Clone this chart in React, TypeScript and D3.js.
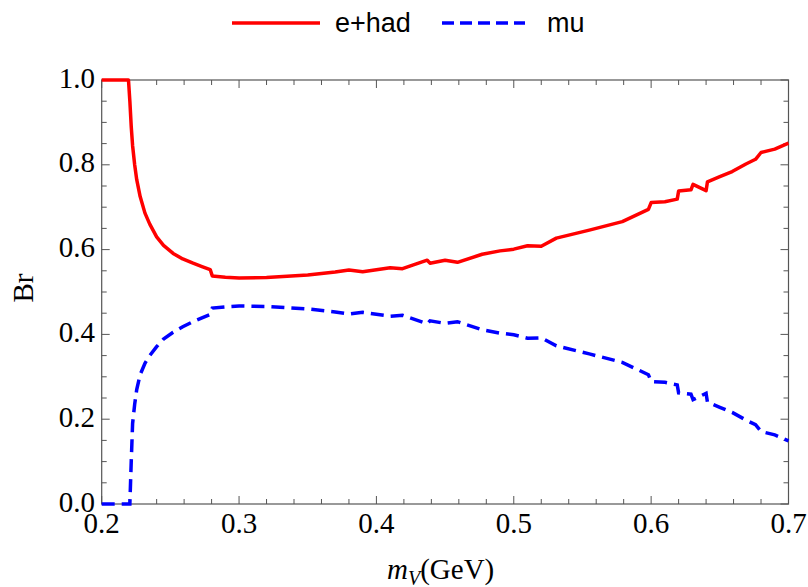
import React from 'react';
import * as d3 from 'd3';

// masses (GeV) shared by both curves
const massGeV = [
  0.2, 0.2195, 0.2205, 0.2215, 0.2225, 0.224, 0.2255, 0.228, 0.2315, 0.235, 0.24, 0.245,
  0.252, 0.259, 0.2665, 0.273, 0.279, 0.2805,
  0.29, 0.3, 0.32, 0.35, 0.37, 0.38, 0.39, 0.41, 0.419, 0.437, 0.439, 0.45, 0.459,
  0.477, 0.49, 0.5, 0.51, 0.52, 0.531, 0.555, 0.579, 0.598, 0.6, 0.61, 0.619, 0.62,
  0.629, 0.6305, 0.64, 0.641, 0.65, 0.659, 0.669, 0.676, 0.68, 0.69, 0.7,
];

const brEHad = [
  1.0, 1.0, 0.95, 0.89, 0.845, 0.8, 0.765, 0.725, 0.686, 0.66, 0.63, 0.61,
  0.591, 0.578, 0.568, 0.56, 0.553, 0.538,
  0.535, 0.533, 0.534, 0.54, 0.547, 0.552, 0.548, 0.557, 0.555, 0.575, 0.568, 0.575, 0.57,
  0.589, 0.597, 0.601, 0.609, 0.608, 0.627, 0.646, 0.666, 0.695, 0.711, 0.713, 0.719, 0.738,
  0.741, 0.754, 0.739, 0.76, 0.772, 0.784, 0.802, 0.813, 0.829, 0.837, 0.851,
];

const brMu = [
  0.0, 0.0, 0.0, 0.1, 0.19, 0.235, 0.27, 0.305, 0.332, 0.35, 0.371, 0.389,
  0.405, 0.418, 0.43, 0.439, 0.447, 0.462,
  0.465, 0.467, 0.466, 0.46, 0.453, 0.448, 0.452, 0.443, 0.445, 0.425, 0.432, 0.426, 0.43,
  0.411, 0.403, 0.399, 0.391, 0.392, 0.373, 0.354, 0.334, 0.305, 0.289, 0.287, 0.281, 0.262,
  0.259, 0.246, 0.261, 0.24, 0.228, 0.216, 0.198, 0.187, 0.171, 0.163, 0.149,
];

const xTickLabels = ['0.2', '0.3', '0.4', '0.5', '0.6', '0.7'];
const yTickLabels = ['0.0', '0.2', '0.4', '0.6', '0.8', '1.0'];

const W = 808;
const H = 587;
const left = 101.7, right = 788.5, top = 80, bottom = 504;
const frameColor = '#555';
const serif = '"Liberation Serif", "Times New Roman", serif';
const sans = '"Liberation Sans", Arial, sans-serif';

const App: React.FC = () => {
  const x = d3.scaleLinear().domain([0.2, 0.7]).range([left, right]);
  const y = d3.scaleLinear().domain([0, 1]).range([bottom, top]);

  const line = d3.line<number>()
    .x((_, i) => x(massGeV[i]))
    .y(d => y(d));

  const xMinor = d3.range(0, 26).map(i => 0.2 + i * 0.02);
  const yMinor = d3.range(0, 21).map(i => i * 0.05);
  const isMajorX = (v: number) => Math.abs(v * 10 - Math.round(v * 10)) < 1e-6;
  const isMajorY = (v: number) => Math.abs(v * 5 - Math.round(v * 5)) < 1e-6;

  return (
    <svg width={W} height={H} style={{ position: 'absolute', left: 0, top: 0, background: '#fff' }}>
      {/* frame */}
      <rect x={left} y={top} width={right - left} height={bottom - top}
        fill="none" stroke={frameColor} strokeWidth={1.2} />

      {/* x ticks, bottom and top */}
      {xMinor.map((v, i) => {
        const len = isMajorX(v) ? 8 : 5;
        return (
          <g key={'xt' + i} stroke={frameColor} strokeWidth={1}>
            <line x1={x(v)} x2={x(v)} y1={bottom} y2={bottom - len} />
            <line x1={x(v)} x2={x(v)} y1={top} y2={top + len} />
          </g>
        );
      })}
      {/* y ticks, left and right */}
      {yMinor.map((v, i) => {
        const len = isMajorY(v) ? 8 : 5;
        return (
          <g key={'yt' + i} stroke={frameColor} strokeWidth={1}>
            <line x1={left} x2={left + len} y1={y(v)} y2={y(v)} />
            <line x1={right} x2={right - len} y1={y(v)} y2={y(v)} />
          </g>
        );
      })}

      {xTickLabels.map(t => (
        <text key={'xl' + t} x={x(+t)} y={533} textAnchor="middle"
          fontFamily={serif} fontSize={29} fill="#000">{t}</text>
      ))}
      {yTickLabels.map(t => (
        <text key={'yl' + t} x={95} y={y(+t) + 7.5} textAnchor="end"
          fontFamily={serif} fontSize={29} fill="#000">{t}</text>
      ))}

      {/* axis titles */}
      <text x={387} y={579} fontFamily={serif} fontSize={29} fill="#000">
        <tspan fontStyle="italic">m</tspan>
        <tspan fontStyle="italic" fontSize={20} dy={6}>V</tspan>
        <tspan dy={-6}>(GeV)</tspan>
      </text>
      <text transform={`translate(33,${(top + bottom) / 2 - 4}) rotate(-90)`} textAnchor="middle"
        fontFamily={serif} fontSize={29} fill="#000">Br</text>

      {/* curves */}
      <path d={line(brEHad) ?? ''} fill="none" stroke="#ff0000" strokeWidth={3.5}
        strokeLinejoin="round" />
      <path d={line(brMu) ?? ''} fill="none" stroke="#0000ff" strokeWidth={3.5}
        strokeDasharray="13,7" />

      {/* legend */}
      <line x1={232} x2={320} y1={23} y2={23} stroke="#ff0000" strokeWidth={3.5} />
      <text x={335} y={32} fontFamily={sans} fontSize={27} fill="#000">e+had</text>
      <line x1={442} x2={525} y1={23} y2={23} stroke="#0000ff" strokeWidth={3.5}
        strokeDasharray="12,6" />
      <text x={547} y={32} fontFamily={sans} fontSize={27} fill="#000">mu</text>
    </svg>
  );
};

export default App;
